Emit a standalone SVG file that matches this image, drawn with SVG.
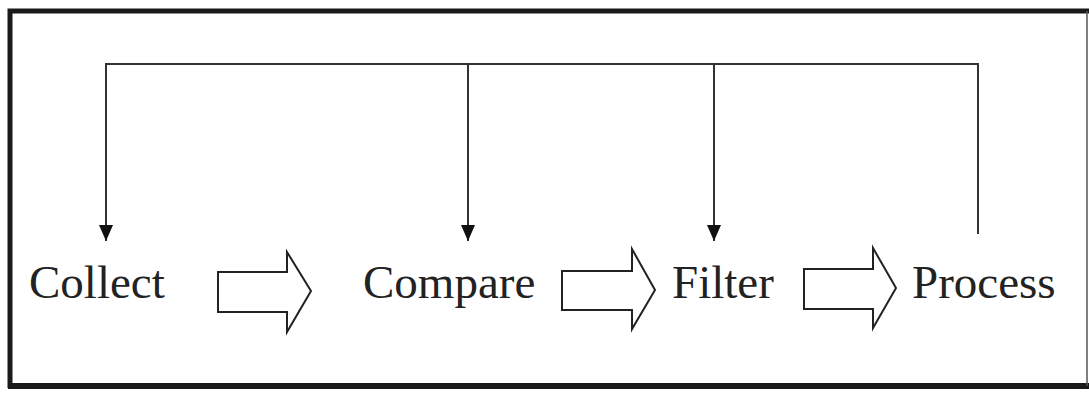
<svg xmlns="http://www.w3.org/2000/svg" width="1089" height="393" viewBox="0 0 1089 393">
<style>
.lbl{font-family:"Liberation Serif","Times New Roman",serif;font-size:47px;fill:#222}
.blk{fill:#fff;stroke:#222;stroke-width:2;stroke-linejoin:miter}
.con{fill:none;stroke:#333;stroke-width:2}
</style>
<defs>
<marker id="ah" markerWidth="14" markerHeight="16" refX="7" refY="16" orient="0" markerUnits="userSpaceOnUse">
<path d="M0,0 L14,0 L7,16 Z" fill="#111"/>
</marker>
</defs>
<rect x="0" y="0" width="1089" height="393" fill="#fff"/>
<g id="frame">
<path d="M10,388 L10,11 L1089,11" fill="none" stroke="#1a1a1a" stroke-width="5"/>
<line x1="8" y1="386" x2="1089" y2="386" stroke="#1a1a1a" stroke-width="6"/>
<line x1="1087" y1="11" x2="1087" y2="386" stroke="#555" stroke-width="1.5"/>
</g>
<g id="connectors">
<path class="con" d="M106,241 L106,64 L978,64 L978,234"/>
<line class="con" x1="106" y1="64" x2="106" y2="241" marker-end="url(#ah)"/>
<line class="con" x1="468" y1="64" x2="468" y2="241" marker-end="url(#ah)"/>
<line class="con" x1="714" y1="64" x2="714" y2="241" marker-end="url(#ah)"/>
</g>
<g id="flow-arrows">
<path class="blk" d="M218,272 L287,272 L287,252 L311,291 L287,332 L287,312 L218,312 Z"/>
<path class="blk" d="M562,271 L632,271 L632,249 L655,290 L632,329 L632,310 L562,310 Z"/>
<path class="blk" d="M804,269 L873,269 L873,248 L896,288 L873,328 L873,309 L804,309 Z"/>
</g>
<g id="collect"><text class="lbl" x="29" y="298">Collect</text></g>
<g id="compare"><text class="lbl" x="363" y="298">Compare</text></g>
<g id="filter"><text class="lbl" x="672" y="298">Filter</text></g>
<g id="process"><text class="lbl" x="912" y="298">Process</text></g>
</svg>
